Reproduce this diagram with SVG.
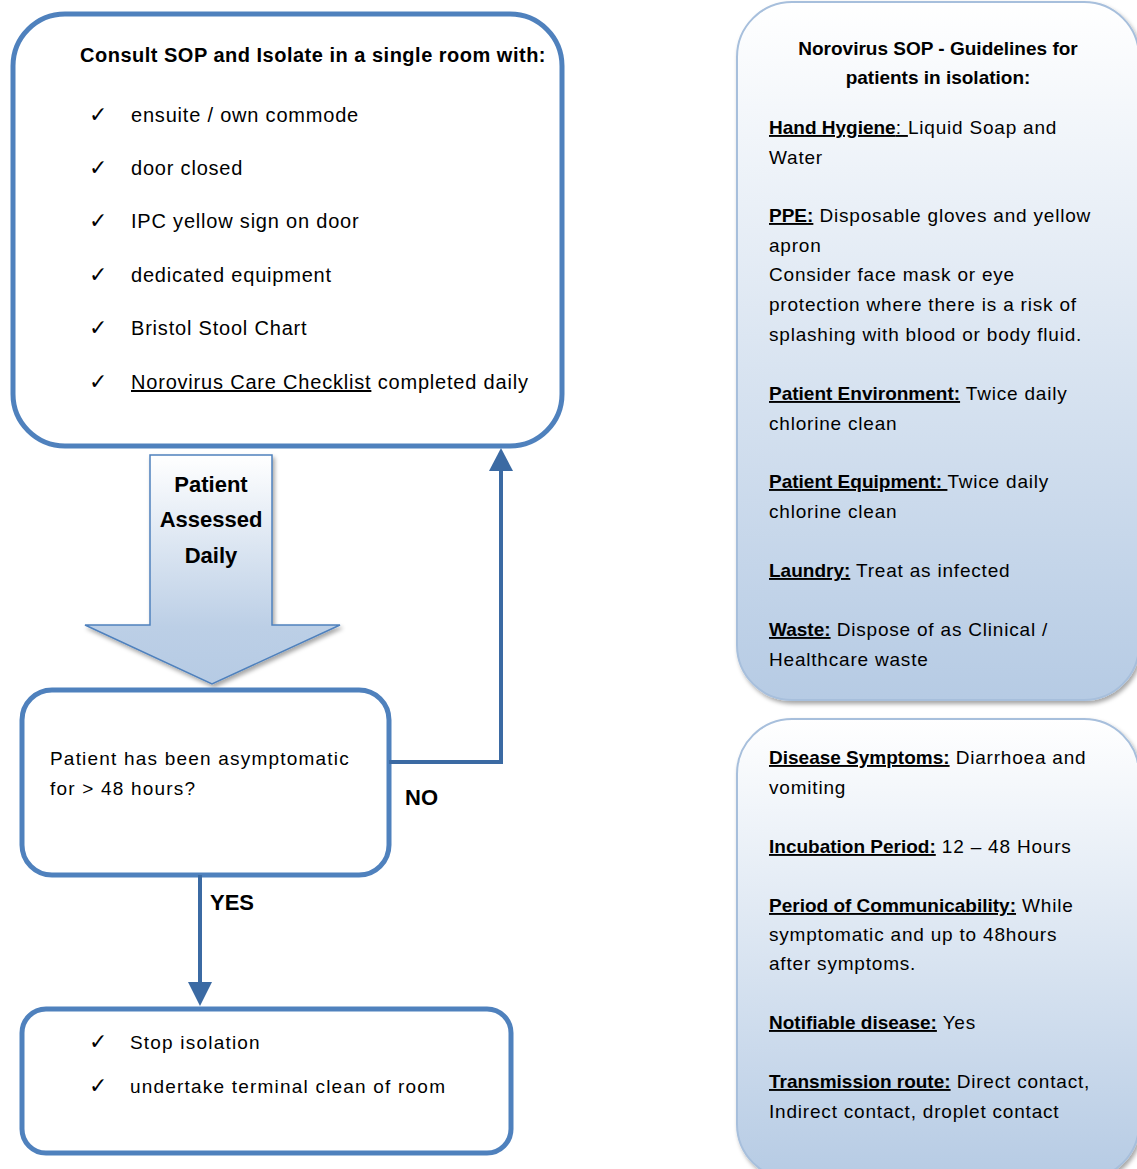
<svg xmlns="http://www.w3.org/2000/svg" width="1137" height="1169" viewBox="0 0 1137 1169">
<style>
  .box { fill: #ffffff; stroke: #4f81bd; stroke-width: 5; }
  .panel { stroke: #a7bfdc; stroke-width: 2; fill: url(#panelGrad); filter: url(#shadow); }
  .conn { fill: none; stroke: #3b6aa3; stroke-width: 4; }
  .head { fill: #3b6aa3; }
  text { font-family: "Liberation Sans", Arial, sans-serif; fill: #000000; }
  .item { font-size: 20px; letter-spacing: 0.8px; }
  .item2 { font-size: 19px; letter-spacing: 1.2px; }
  .chk { font-family: "DejaVu Sans", sans-serif; font-size: 22px; }
  .title { font-size: 20px; font-weight: bold; letter-spacing: 0.5px; }
  .ptxt { font-size: 19px; letter-spacing: 0.8px; }
  .ptitle { font-size: 19px; font-weight: bold; }
  .lbl { font-size: 22px; font-weight: bold; }
  .u { text-decoration: underline; }
  .b { font-weight: bold; letter-spacing: 0px; }
</style>
<defs>
  <linearGradient id="panelGrad" x1="0" y1="0" x2="0" y2="1">
    <stop offset="0" stop-color="#ffffff"/>
    <stop offset="1" stop-color="#b6cbe4"/>
  </linearGradient>
  <linearGradient id="arrowGrad" x1="0" y1="0" x2="0" y2="1">
    <stop offset="0" stop-color="#ffffff"/>
    <stop offset="0.75" stop-color="#bccfe6"/>
    <stop offset="1" stop-color="#b6cbe4"/>
  </linearGradient>
  <filter id="shadow" x="-5%" y="-5%" width="115%" height="115%">
    <feDropShadow dx="2" dy="3" stdDeviation="2" flood-color="#000000" flood-opacity="0.35"/>
  </filter>
</defs>

<g id="isolate">
  <rect class="box" x="13" y="14" width="549" height="432" rx="52" ry="52"/>
  <text class="title" x="80" y="62">Consult SOP and Isolate in a single room with:</text>
  <text class="chk" x="89" y="122">✓</text>
  <text class="item" x="131" y="122">ensuite / own commode</text>
  <text class="chk" x="89" y="175">✓</text>
  <text class="item" x="131" y="175">door closed</text>
  <text class="chk" x="89" y="228">✓</text>
  <text class="item" x="131" y="228">IPC yellow sign on door</text>
  <text class="chk" x="89" y="282">✓</text>
  <text class="item" x="131" y="282">dedicated equipment</text>
  <text class="chk" x="89" y="335">✓</text>
  <text class="item" x="131" y="335">Bristol Stool Chart</text>
  <text class="chk" x="89" y="389">✓</text>
  <text class="item" x="131" y="389"><tspan class="u">Norovirus Care Checklist</tspan> completed daily</text>
</g>

<g id="assessed">
  <polygon points="150,455 272,455 272,625 340,625 212,684 85,625 150,625" fill="url(#arrowGrad)" stroke="#4f81bd" stroke-width="1.5" filter="url(#shadow)"/>
  <text class="lbl" x="211" y="492" text-anchor="middle">Patient</text>
  <text class="lbl" x="211" y="527" text-anchor="middle">Assessed</text>
  <text class="lbl" x="211" y="563" text-anchor="middle">Daily</text>
</g>

<g id="decision">
  <rect class="box" x="22" y="690" width="367" height="185" rx="30" ry="30"/>
  <text class="item2" x="50" y="765">Patient has been asymptomatic</text>
  <text class="item2" x="50" y="795">for &gt; 48 hours?</text>
</g>

<g id="stop">
  <rect class="box" x="22" y="1009" width="489" height="144" rx="24" ry="24"/>
  <text class="chk" x="89" y="1049">✓</text>
  <text class="item2" x="130" y="1049">Stop isolation</text>
  <text class="chk" x="89" y="1093">✓</text>
  <text class="item2" x="130" y="1093">undertake terminal clean of room</text>
</g>

<g id="connectors">
  <polyline class="conn" points="389,762 501,762 501,468"/>
  <polygon class="head" points="501,448 513,471 489,471"/>
  <text class="lbl" x="405" y="805">NO</text>
  <line class="conn" x1="200" y1="875" x2="200" y2="985"/>
  <polygon class="head" points="200,1006 188,982 212,982"/>
  <text class="lbl" x="210" y="910">YES</text>
</g>

<g id="guidelines">
  <rect class="panel" x="737" y="2" width="402" height="698" rx="55" ry="55"/>
  <text class="ptitle" x="938" y="55" text-anchor="middle">Norovirus SOP - Guidelines for</text>
  <text class="ptitle" x="938" y="84" text-anchor="middle">patients in isolation:</text>
  <text class="ptxt" x="769" y="134"><tspan class="u"><tspan class="b">Hand Hygiene</tspan>: </tspan>Liquid Soap and</text>
  <text class="ptxt" x="769" y="164">Water</text>
  <text class="ptxt" x="769" y="222"><tspan class="u b">PPE:</tspan> Disposable gloves and yellow</text>
  <text class="ptxt" x="769" y="252">apron</text>
  <text class="ptxt" x="769" y="281">Consider face mask or eye</text>
  <text class="ptxt" x="769" y="311">protection where there is a risk of</text>
  <text class="ptxt" x="769" y="341">splashing with blood or body fluid.</text>
  <text class="ptxt" x="769" y="400"><tspan class="u b">Patient Environment:</tspan> Twice daily</text>
  <text class="ptxt" x="769" y="430">chlorine clean</text>
  <text class="ptxt" x="769" y="488"><tspan class="u b">Patient Equipment: </tspan>Twice daily</text>
  <text class="ptxt" x="769" y="518">chlorine clean</text>
  <text class="ptxt" x="769" y="577"><tspan class="u b">Laundry:</tspan> Treat as infected</text>
  <text class="ptxt" x="769" y="636"><tspan class="u b">Waste:</tspan> Dispose of as Clinical /</text>
  <text class="ptxt" x="769" y="666">Healthcare waste</text>
</g>

<g id="disease-facts">
  <rect class="panel" x="737" y="719" width="402" height="460" rx="55" ry="55"/>
  <text class="ptxt" x="769" y="764"><tspan class="u b">Disease Symptoms:</tspan> Diarrhoea and</text>
  <text class="ptxt" x="769" y="794">vomiting</text>
  <text class="ptxt" x="769" y="853"><tspan class="u b">Incubation Period:</tspan> 12 – 48 Hours</text>
  <text class="ptxt" x="769" y="912"><tspan class="u b">Period of Communicability:</tspan> While</text>
  <text class="ptxt" x="769" y="941">symptomatic and up to 48hours</text>
  <text class="ptxt" x="769" y="970">after symptoms.</text>
  <text class="ptxt" x="769" y="1029"><tspan class="u b">Notifiable disease:</tspan> Yes</text>
  <text class="ptxt" x="769" y="1088"><tspan class="u b">Transmission route:</tspan> Direct contact,</text>
  <text class="ptxt" x="769" y="1118">Indirect contact, droplet contact</text>
</g>
</svg>
